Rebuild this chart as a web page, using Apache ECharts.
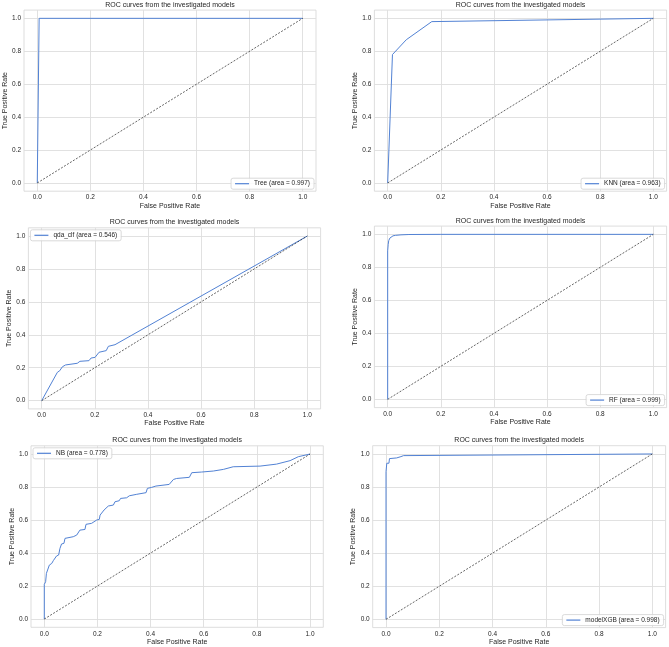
<!DOCTYPE html>
<html>
<head>
<meta charset="utf-8">
<script src="https://cdn.jsdelivr.net/npm/echarts@6/dist/echarts.min.js"></script>
<style>
  html, body { margin: 0; padding: 0; background: #fff; }
  #roc { width: 669px; height: 647px; }
</style>
</head>
<body>
<div id="roc"></div>
<script>
// values
const modelNames = ['Tree', 'KNN', 'qda_clf', 'RF', 'NB', 'modelXGB'];
const aucValues = [0.997, 0.963, 0.546, 0.999, 0.778, 0.998];
const axisTicks = [0, 0.2, 0.4, 0.6, 0.8, 1.0];
const chanceLine = [[0, 0], [1, 1]];

const treeRoc = [[0, 0], [0.007, 1.0], [1, 1]];
const knnRoc = [[0, 0], [0.018, 0.78], [0.07, 0.87], [0.166, 0.98], [1, 1]];
const qdaRoc = [[0, 0], [0.059, 0.172], [0.068, 0.182], [0.078, 0.206], [0.090, 0.217], [0.134, 0.227],
  [0.144, 0.239], [0.178, 0.243], [0.186, 0.259], [0.201, 0.263], [0.216, 0.294], [0.243, 0.304],
  [0.251, 0.330], [0.276, 0.340], [1, 1]];
const rfRoc = [[0, 0], [0, 0.9], [0.002, 0.94], [0.004, 0.962], [0.008, 0.977], [0.013, 0.986],
  [0.02, 0.991], [0.03, 0.994], [0.05, 0.997], [0.08, 0.999], [0.2, 1.0], [1, 1]];
const nbRoc = [[0, 0], [0, 0.21], [0.005, 0.226], [0.008, 0.277], [0.015, 0.287], [0.019, 0.327],
  [0.028, 0.337], [0.034, 0.354], [0.04, 0.358], [0.046, 0.382], [0.054, 0.388], [0.059, 0.428],
  [0.065, 0.455], [0.074, 0.459], [0.078, 0.489], [0.084, 0.499], [0.109, 0.499], [0.122, 0.509],
  [0.134, 0.539], [0.153, 0.543], [0.157, 0.574], [0.178, 0.580], [0.197, 0.600], [0.207, 0.604],
  [0.21, 0.630], [0.225, 0.661], [0.241, 0.685], [0.26, 0.691], [0.266, 0.711], [0.282, 0.717],
  [0.287, 0.731], [0.31, 0.735], [0.32, 0.747], [0.348, 0.756], [0.383, 0.766], [0.388, 0.792],
  [0.404, 0.798], [0.42, 0.806], [0.47, 0.816], [0.486, 0.846], [0.498, 0.852], [0.546, 0.859],
  [0.555, 0.887], [0.592, 0.891], [0.636, 0.897], [0.674, 0.907], [0.711, 0.923], [0.812, 0.927],
  [0.874, 0.939], [0.925, 0.96], [0.956, 0.984], [1, 1]];
const xgbRoc = [[0, 0], [0, 0.893], [0.003, 0.944], [0.011, 0.944], [0.013, 0.972], [0.04, 0.976],
  [0.056, 0.984], [0.066, 0.99], [0.072, 1], [1, 1]];

const rocCurves = [treeRoc, knnRoc, qdaRoc, rfRoc, nbRoc, xgbRoc];

// plot frames in pixels (each panel was a separate figure)
const frames = [
  { l: 24.0, r: 316.0, t: 10.1, b: 191.2, legend: 'br' },
  { l: 374.4, r: 666.6, t: 10.1, b: 191.2, legend: 'br' },
  { l: 28.4, r: 320.6, t: 227.8, b: 408.9, legend: 'tl' },
  { l: 374.4, r: 666.6, t: 226.1, b: 407.6, legend: 'br' },
  { l: 31.0, r: 323.3, t: 445.8, b: 627.3, legend: 'tl' },
  { l: 372.7, r: 665.6, t: 445.7, b: 627.6, legend: 'br' }
];

const W = 669, H = 647;
const FONT = 'Liberation Sans, Arial, sans-serif';
const TEXT = '#262626';
const GRIDC = '#dedede';
const BLUE = '#5282d4';

const title = [], grid = [], xAxis = [], yAxis = [], legend = [], series = [];

frames.forEach(function (f, i) {
  const label = modelNames[i] + ' (area = ' + aucValues[i].toFixed(3) + ')';

  title.push({
    text: 'ROC curves from the investigated models',
    left: (f.l + f.r) / 2,
    top: f.t - 9,
    textAlign: 'center',
    padding: 0,
    textStyle: { fontSize: 7, fontWeight: 'normal', color: TEXT, fontFamily: FONT }
  });

  grid.push({
    left: f.l, top: f.t, width: f.r - f.l, height: f.b - f.t,
    show: true, borderColor: '#d4d4d4', borderWidth: 0.8, backgroundColor: '#fff'
  });

  const axisCommon = {
    gridIndex: i,
    type: 'value',
    min: -0.05,
    max: 1.05,
    axisLine: { show: false },
    axisTick: { show: false, customValues: axisTicks },
    axisLabel: {
      customValues: axisTicks,
      formatter: function (v) { return v.toFixed(1); },
      fontSize: 6.5, color: TEXT, fontFamily: FONT, margin: 3
    },
    splitLine: { show: true, lineStyle: { color: GRIDC, width: 0.9 } },
    nameLocation: 'middle',
    nameTextStyle: { fontSize: 7, color: TEXT, fontFamily: FONT }
  };
  xAxis.push(Object.assign({}, axisCommon, { name: 'False Positive Rate', nameGap: 11 }));
  yAxis.push(Object.assign({}, axisCommon, { name: 'True Positive Rate', nameGap: 15.5 }));

  const lg = {
    data: [label],
    orient: 'vertical',
    icon: 'rect',
    itemWidth: 14,
    itemHeight: 1.2,
    padding: [2, 4],
    backgroundColor: 'rgba(255,255,255,0.85)',
    borderColor: '#d0d0d0',
    borderWidth: 0.8,
    borderRadius: 2,
    selectedMode: false,
    textStyle: { fontSize: 6.5, color: TEXT, fontFamily: FONT }
  };
  if (f.legend === 'br') {
    lg.right = W - (f.r - 2);
    lg.bottom = H - (f.b - 2);
  } else {
    lg.left = f.l + 2;
    lg.top = f.t + 2;
  }
  legend.push(lg);

  series.push({
    name: label,
    type: 'line',
    xAxisIndex: i,
    yAxisIndex: i,
    data: rocCurves[i],
    showSymbol: false,
    symbol: 'none',
    itemStyle: { color: BLUE },
    lineStyle: { color: BLUE, width: 1 },
    z: 2
  });
  series.push({
    type: 'line',
    xAxisIndex: i,
    yAxisIndex: i,
    data: chanceLine,
    showSymbol: false,
    symbol: 'none',
    lineStyle: { color: '#222', width: 0.7, type: [2, 1.5] },
    z: 3
  });
});

const option = {
  backgroundColor: '#fff',
  animation: false,
  title: title,
  grid: grid,
  xAxis: xAxis,
  yAxis: yAxis,
  legend: legend,
  series: series
};

const myChart = echarts.init(document.getElementById('roc'));
myChart && myChart.setOption(option);
</script>
</body>
</html>
